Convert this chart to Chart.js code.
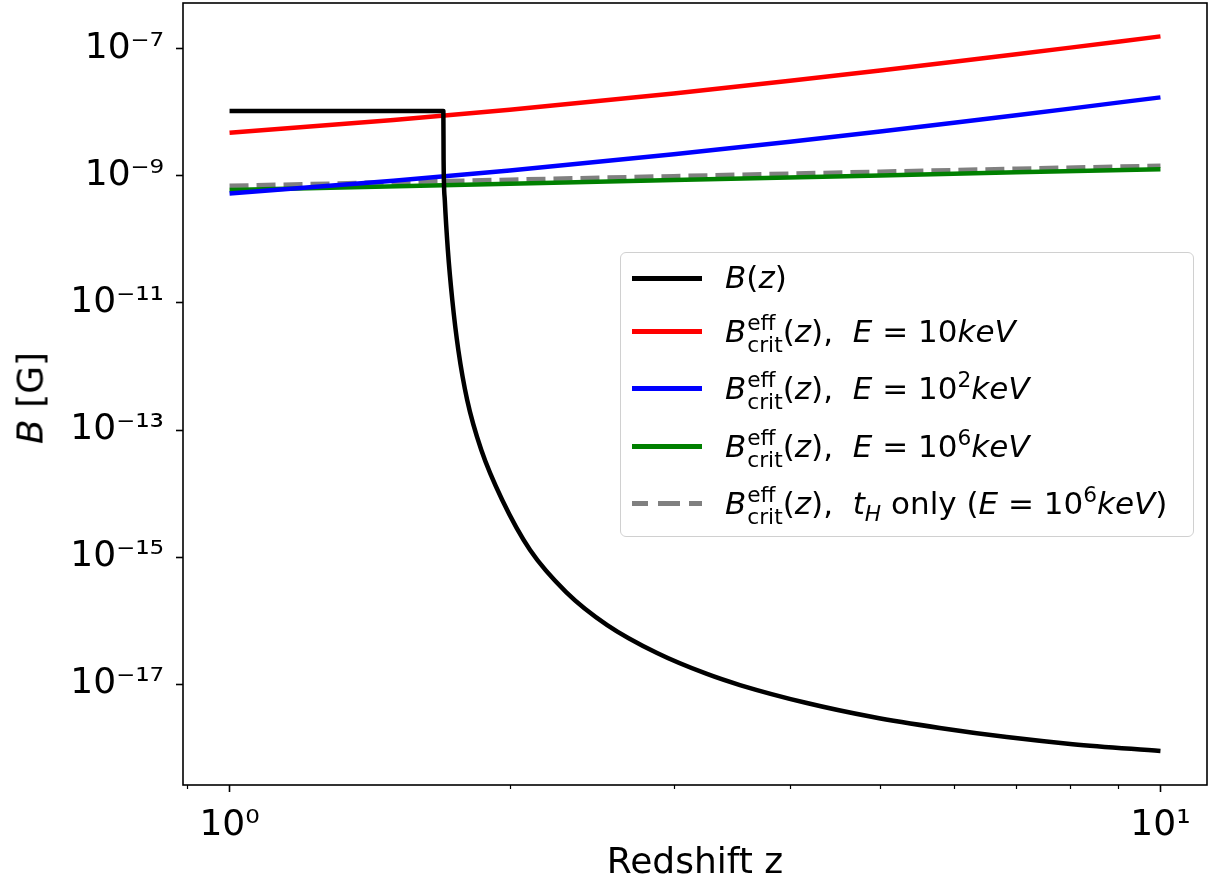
<!DOCTYPE html>
<html lang="en">
<head>
  <meta charset="UTF-8" />
  <title>B(z) vs redshift</title>
  <script src="https://cdn.jsdelivr.net/npm/chart.js@4"></script>
  <style>
    body { margin: 0; background: #fff; font-family: 'DejaVu Sans', sans-serif; }
    .wrap { position: relative; width: 1217px; height: 884px; }
    .ytitle { position: absolute; left: 30px; top: 398px; font-size: 36px; white-space: nowrap;
      transform: translate(-50%, -50%) rotate(-90deg); }
    .xtitle { position: absolute; left: 183px; width: 1024px; top: 843px; font-size: 36px;
      line-height: 36px; text-align: center; }
    .legend { position: absolute; left: 620px; top: 252px; width: 574px; height: 285px;
      box-sizing: border-box; border: 1.5px solid #d0d0d0; border-radius: 6px;
      background: rgba(255, 255, 255, 0.8); font-size: 31px; }
    .row { position: absolute; left: 0; height: 0; width: 100%; }
    .handle { position: absolute; left: 11px; width: 70px; top: -2px; height: 0; border-top: 5px solid #000; }
    .label { position: absolute; left: 104px; top: -19px; white-space: nowrap; line-height: 36px; }
    .ss { display: inline-flex; flex-direction: column; font-size: 0.7em; line-height: 1.0em;
      vertical-align: 0.55em; margin-left: 1px; }
    sup { font-size: 0.7em; vertical-align: 0.55em; line-height: 0; }
    sub { font-size: 0.7em; vertical-align: -0.3em; line-height: 0; }
  </style>
</head>

<body>
  <div class="wrap">
    <canvas id="grafico"></canvas>
    <div class="ytitle"><i>B</i> [G]</div>
    <div class="xtitle">Redshift z</div>
    <div class="legend">
      <div class="row" style="top: 25px;"><div class="handle" style="border-color: #000;"></div>
        <div class="label"><i>B</i>(<i>z</i>)</div></div>
      <div class="row" style="top: 78px;"><div class="handle" style="border-color: #ff0000;"></div>
        <div class="label"><i>B</i><span class="ss"><span>eff</span><span>crit</span></span>(<i>z</i>),&nbsp; <i>E</i> = 10<i>keV</i></div></div>
      <div class="row" style="top: 135px;"><div class="handle" style="border-color: #0000ff;"></div>
        <div class="label"><i>B</i><span class="ss"><span>eff</span><span>crit</span></span>(<i>z</i>),&nbsp; <i>E</i> = 10<sup>2</sup><i>keV</i></div></div>
      <div class="row" style="top: 193px;"><div class="handle" style="border-color: #008000;"></div>
        <div class="label"><i>B</i><span class="ss"><span>eff</span><span>crit</span></span>(<i>z</i>),&nbsp; <i>E</i> = 10<sup>6</sup><i>keV</i></div></div>
      <div class="row" style="top: 250px;"><div class="handle" style="border-top: 5px dashed #808080; border-image: repeating-linear-gradient(90deg, #808080 0 19px, transparent 19px 27px) 5;"></div>
        <div class="label"><i>B</i><span class="ss"><span>eff</span><span>crit</span></span>(<i>z</i>),&nbsp; <i>t<sub>H</sub></i> only (<i>E</i> = 10<sup>6</sup><i>keV</i>)</div></div>
    </div>
  </div>

  <script>
    // valores
    const zBlack = [1.0, 1.697, 1.698, 1.703, 1.716, 1.735, 1.761, 1.800, 1.864, 1.963, 2.103, 2.299, 2.545, 2.879, 3.257, 3.534, 4.170, 4.909, 5.794, 6.837, 8.048, 10.0];
    const bBlack = [1.06e-8, 1.06e-8, 1.79e-9, 4.19e-10, 6.84e-11, 1.11e-11, 1.82e-12, 2.97e-13, 4.84e-14, 7.91e-15, 1.29e-15, 2.81e-16, 8.49e-17, 3.08e-17, 1.44e-17, 9.64e-18, 5.02e-18, 3.02e-18, 2.03e-18, 1.46e-18, 1.13e-18, 8.8e-19];

    const zCrit = [1, 1.5, 2, 3, 4, 5, 6, 7, 8, 9, 10];
    const bRed = [4.8e-9, 7.6e-9, 1.10e-8, 1.99e-8, 3.15e-8, 4.57e-8, 6.27e-8, 8.24e-8, 1.05e-7, 1.30e-7, 1.58e-7];
    const bBlue = [5.3e-10, 8.4e-10, 1.22e-9, 2.20e-9, 3.47e-9, 5.02e-9, 6.89e-9, 9.04e-9, 1.15e-8, 1.43e-8, 1.73e-8];

    const zFlat = [1, 2, 3, 5, 7, 10];
    const bGreen = [6.0e-10, 7.55e-10, 8.63e-10, 1.02e-9, 1.14e-9, 1.28e-9];
    const bGray = [7.0e-10, 8.75e-10, 9.93e-10, 1.17e-9, 1.30e-9, 1.45e-9];

    const xTicks = [1, 10];
    const xTickLabels = ['10\u2070', '10\u00b9'];
    const xMinorTicks = [0.9, 2, 3, 4, 5, 6, 7, 8, 9];
    const yTicks = [1e-17, 1e-15, 1e-13, 1e-11, 1e-9, 1e-7];
    const yTickLabels = ['10\u207b\u00b9\u2077', '10\u207b\u00b9\u2075', '10\u207b\u00b9\u00b3', '10\u207b\u00b9\u00b9', '10\u207b\u2079', '10\u207b\u2077'];

    function pontos(xs, ys) {
      const out = [];
      for (let i = 0; i < xs.length; i++) {
        out.push({ x: xs[i], y: ys[i] });
      }
      return out;
    }

    function semPadding(s) {
      s.paddingTop = 0;
      s.paddingBottom = 0;
      s.paddingLeft = 0;
      s.paddingRight = 0;
    }

    const moldura = {
      id: 'moldura',
      afterDraw(chart) {
        const c = chart.ctx;
        const a = chart.chartArea;
        const x = chart.scales.x;
        c.save();
        c.strokeStyle = '#000';
        c.lineWidth = 1.2;
        for (const v of xMinorTicks) {
          const px = Math.round(x.getPixelForValue(v)) + 0.5;
          c.beginPath();
          c.moveTo(px, a.bottom);
          c.lineTo(px, a.bottom + 4);
          c.stroke();
        }
        c.lineWidth = 1.6;
        c.strokeRect(a.left, a.top, a.right - a.left, a.bottom - a.top);
        c.restore();
      }
    };

    Chart.defaults.font.family = "'DejaVu Sans', sans-serif";
    Chart.defaults.color = '#000';

    const ctx = document.getElementById('grafico').getContext('2d');
    document.getElementById('grafico').width = 1217;
    document.getElementById('grafico').height = 884;

    const grafico = new Chart(ctx, {
      type: 'line',
      data: {
        datasets: [{
          label: 'B(z)',
          data: pontos(zBlack, bBlack),
          borderColor: '#000000',
          borderWidth: 4.5,
          cubicInterpolationMode: 'monotone'
        }, {
          label: 'E = 10keV',
          data: pontos(zCrit, bRed),
          borderColor: '#ff0000',
          borderWidth: 4.5
        }, {
          label: 'E = 10^2keV',
          data: pontos(zCrit, bBlue),
          borderColor: '#0000ff',
          borderWidth: 4.5
        }, {
          label: 'E = 10^6keV',
          data: pontos(zFlat, bGreen),
          borderColor: '#008000',
          borderWidth: 4.5
        }, {
          label: 't_H only',
          data: pontos(zFlat, bGray),
          borderColor: '#808080',
          borderWidth: 4.5,
          borderDash: [19, 8]
        }]
      },
      options: {
        responsive: false,
        animation: false,
        elements: {
          point: { radius: 0 },
          line: { tension: 0, fill: false, borderJoinStyle: 'round', borderCapStyle: 'butt' }
        },
        layout: { padding: { left: 0, right: 10, top: 3, bottom: 0 } },
        scales: {
          x: {
            type: 'logarithmic',
            min: Math.pow(10, -0.05),
            max: Math.pow(10, 1.05),
            border: { display: false },
            grid: { drawOnChartArea: false, drawTicks: true, tickLength: 7, tickWidth: 1.6, tickColor: '#000' },
            ticks: {
              autoSkip: false,
              maxRotation: 0,
              padding: 12,
              font: { size: 36 },
              callback: (v, i) => xTickLabels[i]
            },
            afterBuildTicks: (s) => { s.ticks = xTicks.map(v => ({ value: v })); },
            afterFit: (s) => { s.height = 99; semPadding(s); }
          },
          y: {
            type: 'logarithmic',
            min: Math.pow(10, -18.59),
            max: Math.pow(10, -6.276),
            border: { display: false },
            grid: { drawOnChartArea: false, drawTicks: true, tickLength: 7, tickWidth: 1.6, tickColor: '#000' },
            ticks: {
              autoSkip: false,
              padding: 12,
              font: { size: 36 },
              callback: (v, i) => yTickLabels[i]
            },
            afterBuildTicks: (s) => { s.ticks = yTicks.map(v => ({ value: v })); },
            afterFit: (s) => { s.width = 183; semPadding(s); }
          }
        },
        plugins: {
          legend: { display: false },
          tooltip: { enabled: false }
        }
      },
      plugins: [moldura]
    });
  </script>
</body>

</html>
